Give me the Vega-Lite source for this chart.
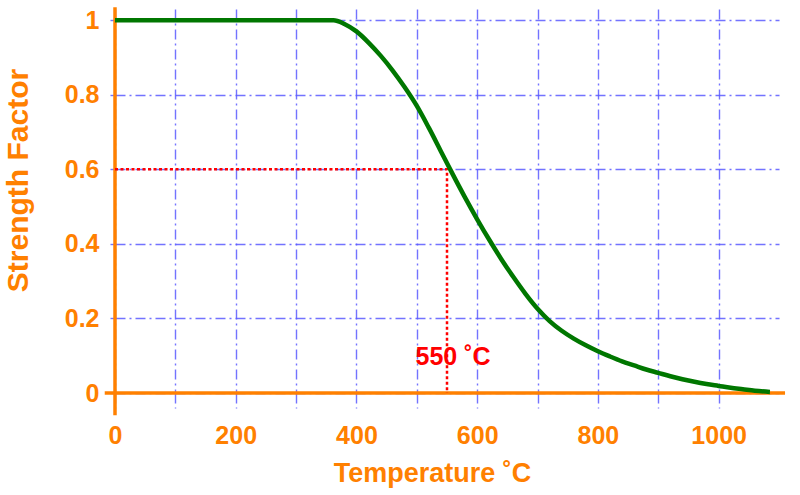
{
  "$schema": "https://vega.github.io/schema/vega-lite/v6.json",
  "width": 664,
  "height": 384,
  "autosize": "none",
  "padding": {"left": 115, "top": 9, "right": 21, "bottom": 102},
  "background": "white",
  "config": {
    "view": {"stroke": null},
    "font": "Liberation Sans",
    "axis": {
      "labelFont": "Liberation Sans",
      "labelFontWeight": "bold",
      "labelColor": "#ff8000",
      "labelFontSize": 25,
      "titleFont": "Liberation Sans",
      "titleFontWeight": "bold",
      "titleColor": "#ff8000",
      "domain": false,
      "grid": true,
      "gridColor": "#5a5aff",
      "gridOpacity": 0.85,
      "gridWidth": 1.4,
      "gridDash": [10, 4, 2, 4],
      "tickColor": "#5a5aff",
      "tickOpacity": 0.85,
      "tickWidth": 1.4,
      "tickDash": [10, 4, 2, 4]
    }
  },
  "datasets": {
    "curve": [
      {"temp": 0, "factor": 1},
      {"temp": 100, "factor": 1},
      {"temp": 200, "factor": 1},
      {"temp": 300, "factor": 1},
      {"temp": 350, "factor": 1},
      {"temp": 362, "factor": 1},
      {"temp": 380, "factor": 0.99},
      {"temp": 400, "factor": 0.97},
      {"temp": 420, "factor": 0.94},
      {"temp": 440, "factor": 0.905},
      {"temp": 460, "factor": 0.865},
      {"temp": 480, "factor": 0.82},
      {"temp": 500, "factor": 0.77},
      {"temp": 520, "factor": 0.711},
      {"temp": 540, "factor": 0.648},
      {"temp": 560, "factor": 0.585},
      {"temp": 580, "factor": 0.524},
      {"temp": 600, "factor": 0.466},
      {"temp": 620, "factor": 0.411},
      {"temp": 640, "factor": 0.359},
      {"temp": 660, "factor": 0.311},
      {"temp": 680, "factor": 0.266},
      {"temp": 700, "factor": 0.226},
      {"temp": 720, "factor": 0.193},
      {"temp": 740, "factor": 0.167},
      {"temp": 760, "factor": 0.146},
      {"temp": 780, "factor": 0.128},
      {"temp": 800, "factor": 0.112},
      {"temp": 820, "factor": 0.098},
      {"temp": 840, "factor": 0.085},
      {"temp": 860, "factor": 0.074},
      {"temp": 880, "factor": 0.063},
      {"temp": 900, "factor": 0.054},
      {"temp": 920, "factor": 0.045},
      {"temp": 940, "factor": 0.037},
      {"temp": 960, "factor": 0.03},
      {"temp": 980, "factor": 0.024},
      {"temp": 1000, "factor": 0.019},
      {"temp": 1020, "factor": 0.014},
      {"temp": 1040, "factor": 0.01},
      {"temp": 1060, "factor": 0.006},
      {"temp": 1085, "factor": 0.003}
    ],
    "axes": [
      {"temp": -17, "temp2": 1110, "factor": 0, "factor2": 0},
      {"temp": 0, "temp2": 0, "factor": -0.06, "factor2": 1.035}
    ],
    "guide": [
      {"temp": 0, "factor": 0.6, "order": 1},
      {"temp": 550, "factor": 0.6, "order": 2},
      {"temp": 550, "factor": 0, "order": 3}
    ],
    "note": [
      {"temp": 550, "factor": 0.076, "label": "550 ˚C"}
    ]
  },
  "encoding": {
    "x": {
      "field": "temp",
      "type": "quantitative",
      "scale": {"domain": [0, 1100], "nice": false, "zero": false},
      "axis": {
        "values": [0, 100, 200, 300, 400, 500, 600, 700, 800, 900, 1000],
        "format": "d",
        "labelExpr": "datum.value % 200 == 0 ? datum.label : ''",
        "tickSize": 15,
        "labelPadding": 15,
        "labelFlush": false,
        "labelOverlap": false,
        "title": "Temperature  ˚C",
        "titleFontSize": 27,
        "titleX": 317,
        "titleY": 80,
        "titleAlign": "center",
        "titleBaseline": "middle"
      }
    },
    "y": {
      "field": "factor",
      "type": "quantitative",
      "scale": {"domain": [0, 1.03], "nice": false, "zero": false},
      "axis": {
        "values": [0, 0.2, 0.4, 0.6, 0.8, 1],
        "format": "~g",
        "tickSize": 5,
        "labelPadding": 11,
        "labelFlush": false,
        "labelOverlap": false,
        "title": "Strength Factor",
        "titleFontSize": 30,
        "titleAngle": -90,
        "titleX": -97,
        "titleY": 171,
        "titleAlign": "center",
        "titleBaseline": "middle"
      }
    }
  },
  "layer": [
    {
      "data": {"name": "axes"},
      "mark": {"type": "rule", "color": "#ff8000", "strokeWidth": 3.5},
      "encoding": {
        "x2": {"field": "temp2"},
        "y2": {"field": "factor2"}
      }
    },
    {
      "data": {"name": "guide"},
      "mark": {"type": "line", "color": "#ff0000", "strokeWidth": 2.5, "strokeDash": [3, 2.5]},
      "encoding": {
        "order": {"field": "order", "type": "quantitative"}
      }
    },
    {
      "data": {"name": "curve"},
      "mark": {"type": "line", "color": "#007700", "strokeWidth": 4.5, "interpolate": "monotone"},
      "encoding": {}
    },
    {
      "data": {"name": "note"},
      "mark": {
        "type": "text",
        "color": "#ff0000",
        "font": "Liberation Sans",
        "fontWeight": "bold",
        "fontSize": 25,
        "align": "center",
        "baseline": "alphabetic",
        "dx": 6
      },
      "encoding": {
        "text": {"field": "label", "type": "nominal"}
      }
    }
  ]
}
